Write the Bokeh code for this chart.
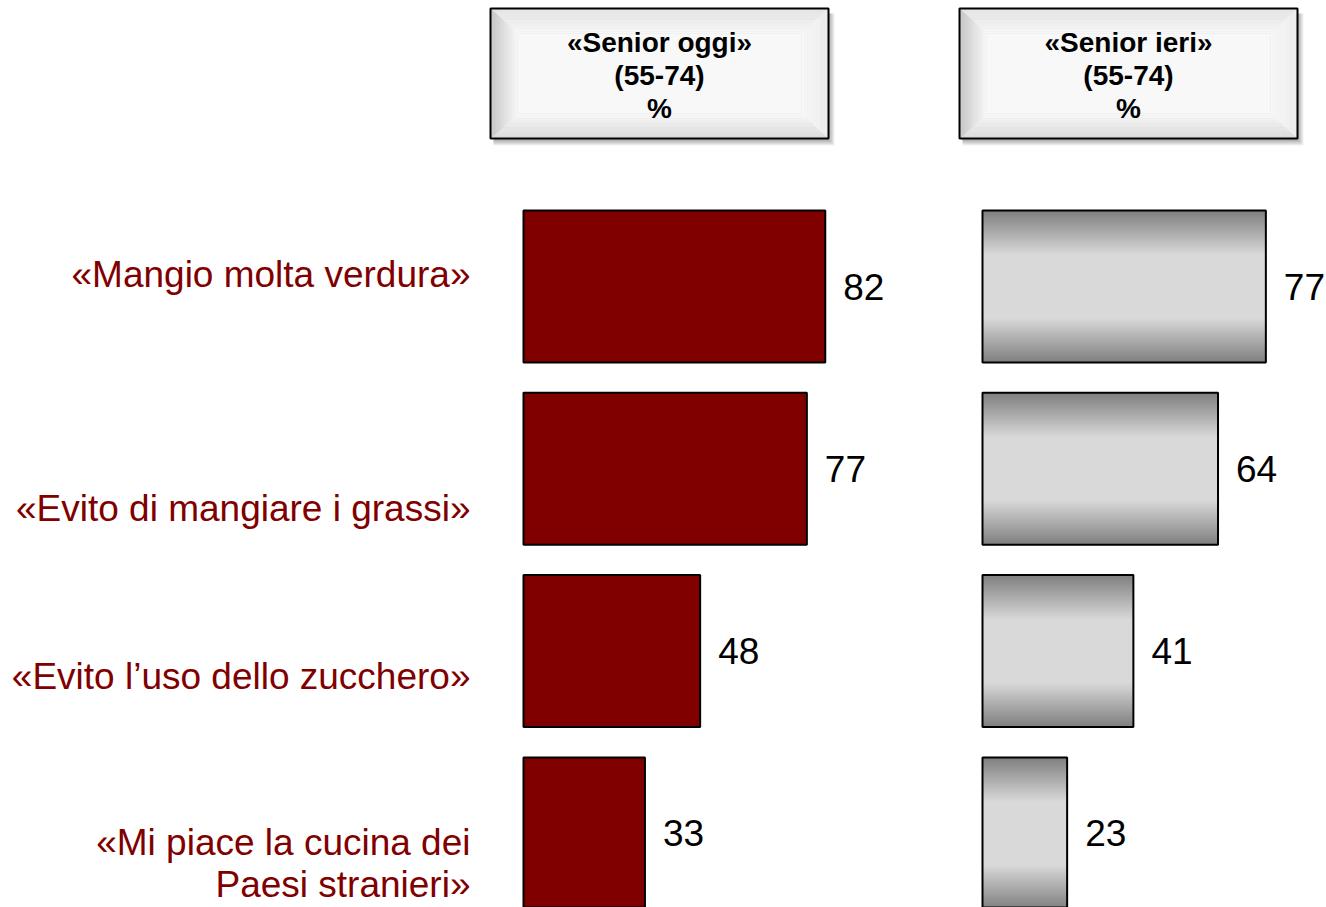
from bokeh.plotting import figure
from bokeh.models import Range1d, ColumnDataSource
from bokeh.layouts import row
from bokeh.embed import file_html
from bokeh.resources import INLINE
from bokeh.core.properties import value

# ---------------- data ----------------
categories = [
    "«Mangio molta verdura»",
    "«Evito di mangiare i grassi»",
    "«Evito l’uso dello zucchero»",
    "«Mi piace la cucina dei\nPaesi stranieri»",
]
senior_oggi = [82, 77, 48, 33]
senior_ieri = [77, 64, 41, 23]
header_oggi = "«Senior oggi»\n(55-74)\n%"
header_ieri = "«Senior ieri»\n(55-74)\n%"

# ---------------- layout / style ----------------
FONT = "Liberation Sans"
RED = "#800000"
H = 907
PX = 3.68          # pixels per percentage point
UNIT = 182.3       # pixels per category row
Y0 = 286           # pixel row of first category centre
BH = 152 / UNIT    # bar height in category units
label_dy = [-12, 40, 25, 30]

idx = list(range(len(categories)))


def make_fig(width, base_px):
    p = figure(width=width, height=H,
               x_range=Range1d(-base_px / PX, (width - base_px) / PX),
               y_range=Range1d((H - Y0) / UNIT, -Y0 / UNIT),
               output_backend="svg", toolbar_location=None,
               min_border=0, x_axis_location=None, y_axis_location=None,
               outline_line_color=None)
    p.grid.visible = False
    p.background_fill_color = "white"
    p.border_fill_color = "white"
    return p


def mix(c1, c2, t):
    return "#%02x%02x%02x" % tuple(int(round(a + (b - a) * t)) for a, b in zip(c1, c2))


def draw_header(p, base_px, x0, x1, title):
    X = lambda fx: (fx - base_px) / PX
    Y = lambda fy: (fy - Y0) / UNIT
    y0, y1 = 8, 138
    # shadow
    for k in range(1, 7):
        p.quad(left=[X(x0 + 3)], right=[X(x1 + k)], top=[Y(y0 + 5)], bottom=[Y(y1 + k + 1)],
               fill_color="#000000", fill_alpha=0.06, line_color=None)
    # bevel rings
    N = 14
    bx, by = 27, 25
    center = (248, 248, 248)
    edges = {"top": (228, 228, 228), "left": (198, 198, 198),
             "right": (238, 238, 238), "bottom": (220, 220, 220)}
    xs, ys, cols = [], [], []
    for k in range(N):
        ax0, ay0 = bx * k / N, by * k / N
        ax1, ay1 = bx * (k + 1) / N, by * (k + 1) / N
        t = k / (N - 1)
        L0, R0, T0, B0 = x0 + ax0, x1 - ax0, y0 + ay0, y1 - ay0
        L1, R1, T1, B1 = x0 + ax1, x1 - ax1, y0 + ay1, y1 - ay1
        quads = {
            "top": [(L0, T0), (R0, T0), (R1, T1), (L1, T1)],
            "bottom": [(L0, B0), (R0, B0), (R1, B1), (L1, B1)],
            "left": [(L0, T0), (L1, T1), (L1, B1), (L0, B0)],
            "right": [(R0, T0), (R1, T1), (R1, B1), (R0, B0)],
        }
        for side, pts in quads.items():
            xs.append([X(a) for a, _ in pts])
            ys.append([Y(b) for _, b in pts])
            cols.append(mix(edges[side], center, t))
    p.patches(xs=xs, ys=ys, fill_color=cols, line_color=cols, line_width=0.6)
    p.quad(left=[X(x0 + bx)], right=[X(x1 - bx)], top=[Y(y0 + by)], bottom=[Y(y1 - by)],
           fill_color=mix(center, center, 0), line_color=None)
    # border
    p.quad(left=[X(x0)], right=[X(x1)], top=[Y(y0)], bottom=[Y(y1)],
           fill_color=None, line_color="black", line_width=2)
    p.text(x=[X((x0 + x1) / 2)], y=[Y(75)], text=[title], text_align="center",
           text_baseline="middle", text_font=value(FONT), text_font_style="bold",
           text_font_size="28px", text_line_height=1.06, text_color="black")


# ---------------- left panel ----------------
WL = 940
BASE_L = 523
pl = make_fig(WL, BASE_L)
draw_header(pl, BASE_L, 490, 828, header_oggi)

src_l = ColumnDataSource(dict(y=idx, v=senior_oggi, lab=[str(v) for v in senior_oggi],
                              cat=categories, zero=[0] * len(idx), dy=label_dy))
pl.hbar(y="y", left=0, right="v", height=BH, source=src_l,
        fill_color=RED, line_color="black", line_width=2)
pl.text(x="v", y="y", text="lab", source=src_l, x_offset=18,
        text_baseline="middle", text_align="left", text_font=value(FONT),
        text_font_size="37px", text_color="black")
pl.text(x="zero", y="y", text="cat", source=src_l, x_offset=-53, y_offset="dy",
        text_baseline="middle", text_align="right", text_font=value(FONT),
        text_font_size="37px", text_color=RED, text_line_height=1.03)

# ---------------- right panel ----------------
WR = 386
BASE_R = 42
pr = make_fig(WR, BASE_R)
draw_header(pr, BASE_R, 19, 357, header_ieri)

# symmetric vertical gradient: nested, centred bars from dark edge to light core
NS = 36
light, dark = (217, 217, 217), (128, 128, 128)
gy, gr, gh, gc = [], [], [], []
for k in range(NS + 1):
    d = 1 - k * (1 - 0.42) / NS          # fraction of full height
    f = (d - 0.42) / 0.58
    for i, v in zip(idx, senior_ieri):
        gy.append(i)
        gr.append(v)
        gh.append(BH * d)
        gc.append(mix(light, dark, f))
pr.hbar(y=gy, left=0, right=gr, height=gh, fill_color=gc, line_color=None)

src_r = ColumnDataSource(dict(y=idx, v=senior_ieri, lab=[str(v) for v in senior_ieri]))
pr.hbar(y="y", left=0, right="v", height=BH, source=src_r,
        fill_color=None, line_color="black", line_width=2)
pr.text(x="v", y="y", text="lab", source=src_r, x_offset=18,
        text_baseline="middle", text_align="left", text_font=value(FONT),
        text_font_size="37px", text_color="black")

layout = row(pl, pr, spacing=0)
open("out.html", "w").write(file_html(layout, INLINE))
